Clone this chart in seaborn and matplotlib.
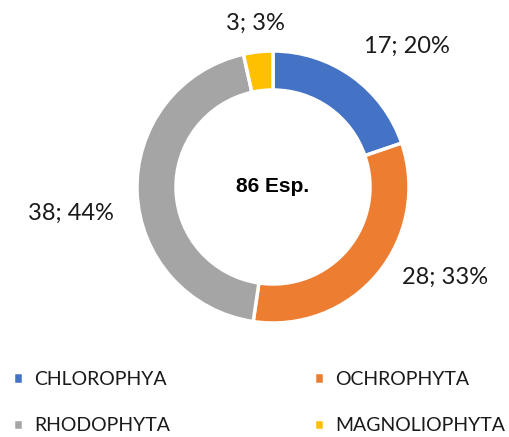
import numpy as np
import matplotlib.pyplot as plt
import seaborn as sns

# data
groups = ['CHLOROPHYA', 'OCHROPHYTA', 'RHODOPHYTA', 'MAGNOLIOPHYTA']
counts = [17, 28, 38, 3]
colors = ['#4472C4', '#ED7D31', '#A5A5A5', '#FFC000']
total_label = '86 Esp.'

sns.set_theme(style='white')
plt.rcParams['font.family'] = ['Lato', 'DejaVu Sans']

fig = plt.figure(figsize=(5.10, 4.37), dpi=100)
ax = fig.add_axes([0, 0, 1, 1])

cx, cy, R = 273, 250, 136
wedges, _ = ax.pie(counts, colors=colors, startangle=90, counterclock=False,
                   center=(cx, cy), radius=R, frame=True,
                   wedgeprops=dict(width=39, edgecolor='white', linewidth=2.5))
ax.set_xlim(0, 510)
ax.set_ylim(0, 437)
ax.set_aspect('equal')
ax.axis('off')

ax.text(cx, cy, total_label, ha='center', va='center', fontsize=15,
        fontweight='bold', color='black', family='Liberation Sans')

# label placement (angle in degrees, distance in radii) like Excel's outside-end
label_pos = [(46.3, 1.43), (-27.6, 1.43), (187.3, 1.50), (96.0, 1.21)]
pcts = np.round(np.array(counts) / sum(counts) * 100).astype(int)
for n, p, (ang, d) in zip(counts, pcts, label_pos):
    a = np.deg2rad(ang)
    ax.text(cx + d * R * np.cos(a), cy + d * R * np.sin(a), f'{n}; {p}%',
            ha='center', va='center', fontsize=17, color='#1a1a1a')

order = [0, 2, 1, 3]
fig.legend([wedges[i] for i in order], [groups[i] for i in order], ncol=2,
           loc='lower left', bbox_to_anchor=(0.010, -0.011), frameon=False,
           borderaxespad=0, fontsize=14, handlelength=0.5, handleheight=0.5,
           handletextpad=0.6, columnspacing=7.4, labelspacing=1.5,
           labelcolor='#1a1a1a')

fig.savefig('out.png', dpi=100, facecolor='white')
